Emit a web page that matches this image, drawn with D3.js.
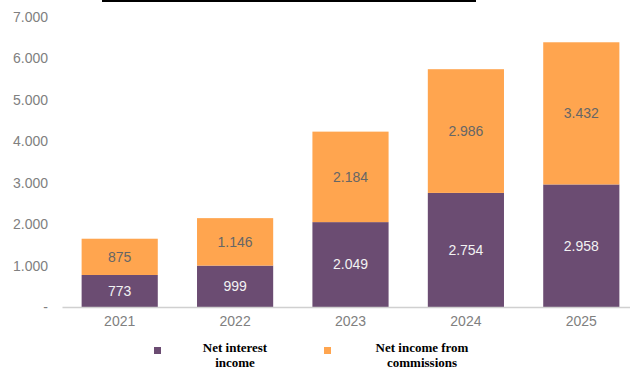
<!DOCTYPE html>
<html lang="en">
<meta charset="utf-8">
<title>Net interest income and commissions</title>
<style>
	body { margin: 0; background: #fff; }
	.tick text { fill: #808080; font: 14px "Liberation Sans", Arial, sans-serif; }
	.val { font: 14px "Liberation Sans", Arial, sans-serif; }
	.leg { font: bold 13px "Liberation Serif", "Times New Roman", serif; fill: #000; }
</style>
<body>
<script src="https://cdn.jsdelivr.net/npm/d3@7"></script>
<svg class="chart"></svg>
<script>
	var years = ["2021", "2022", "2023", "2024", "2025"];
	var interest = [773, 999, 2049, 2754, 2958];
	var commissions = [875, 1146, 2184, 2986, 3432];
	var yTicks = [0, 1000, 2000, 3000, 4000, 5000, 6000, 7000];
	var seriesNames = ["Net interest income", "Net income from commissions"];
	var colors = ["#6B4C72", "#FFA54F"];

	var width = 630, height = 372;
	var svg = d3.select(".chart").attr("width", width).attr("height", height);

	var loc = d3.formatLocale({decimal: ",", thousands: ".", grouping: [3], currency: ["", ""]});
	var fmt = loc.format(",d");

	var x = d3.scaleBand().domain(years).range([62, 639]).paddingInner(0.34).paddingOuter(0.17);
	var y = d3.scaleLinear().domain([0, 7000]).range([307, 17]);

	// top rule
	svg.append("line").attr("x1", 102).attr("x2", 476).attr("y1", 1).attr("y2", 1)
		.attr("stroke", "#000").attr("stroke-width", 2);

	// y axis labels
	var yAxis = d3.axisLeft(y).tickValues(yTicks).tickSize(0).tickPadding(0)
		.tickFormat(function(d) { return d === 0 ? "-" : fmt(d); });
	var gy = svg.append("g").attr("transform", "translate(48,0)").call(yAxis);
	gy.select(".domain").remove();

	var data = years.map(function(yr, i) { return {year: yr, a: interest[i], b: commissions[i]}; });

	svg.selectAll(".int").data(data).enter().append("rect")
		.attr("x", function(d) { return x(d.year); })
		.attr("width", x.bandwidth())
		.attr("y", function(d) { return y(d.a); })
		.attr("height", function(d) { return y(0) - y(d.a); })
		.attr("fill", colors[0]);

	svg.selectAll(".com").data(data).enter().append("rect")
		.attr("x", function(d) { return x(d.year); })
		.attr("width", x.bandwidth())
		.attr("y", function(d) { return y(d.a + d.b); })
		.attr("height", function(d) { return y(d.a) - y(d.a + d.b); })
		.attr("fill", colors[1]);

	// x axis
	var xAxis = d3.axisBottom(x).tickSize(0).tickPadding(9);
	var gx = svg.append("g").attr("transform", "translate(0,307)").call(xAxis);
	gx.select(".domain").attr("stroke", "#d0d0d0").attr("stroke-width", 1.5);

	// value labels
	svg.selectAll(".vi").data(data).enter().append("text")
		.attr("class", "val")
		.attr("text-anchor", "middle").attr("dy", "0.35em")
		.attr("x", function(d) { return x(d.year) + x.bandwidth() / 2; })
		.attr("y", function(d) { return (y(0) + y(d.a)) / 2; })
		.attr("fill", "#f2f2f2")
		.text(function(d) { return fmt(d.a); });

	svg.selectAll(".vc").data(data).enter().append("text")
		.attr("class", "val")
		.attr("text-anchor", "middle").attr("dy", "0.35em")
		.attr("x", function(d) { return x(d.year) + x.bandwidth() / 2; })
		.attr("y", function(d) { return (y(d.a) + y(d.a + d.b)) / 2; })
		.attr("fill", "#666")
		.text(function(d) { return fmt(d.b); });

	// legend
	var legend = [
		{sx: 154, tx: 235, lines: ["Net interest", "income"], c: colors[0]},
		{sx: 324, tx: 422, lines: ["Net income from", "commissions"], c: colors[1]}
	];
	var lg = svg.selectAll(".lg").data(legend).enter().append("g");
	lg.append("rect").attr("x", function(d) { return d.sx; }).attr("y", 347)
		.attr("width", 7).attr("height", 7).attr("fill", function(d) { return d.c; });
	lg.each(function(d) {
		var t = d3.select(this).append("text").attr("class", "leg").attr("text-anchor", "middle");
		d.lines.forEach(function(l, i) {
			t.append("tspan").attr("x", d.tx).attr("y", 352 + i * 15).text(l);
		});
	});
</script>
</body>
</html>
